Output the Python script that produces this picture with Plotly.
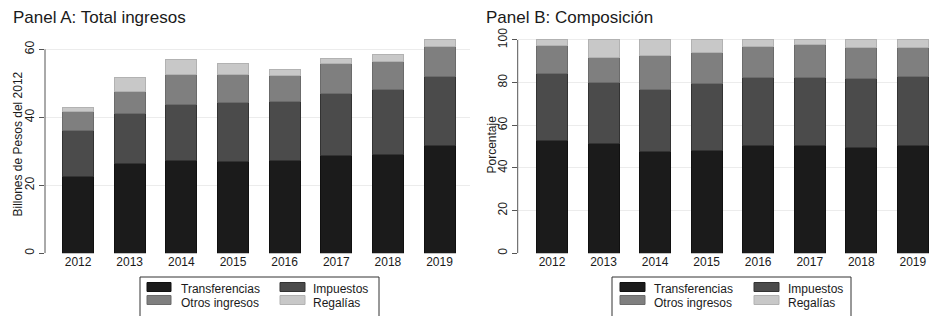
import plotly.graph_objects as go

# The page body has an 8px margin; the figure is sized/positioned so that
# reference pixel p lands on screen pixel p.
OFF = 8
W, H = 937 - OFF, 316 - OFF

years = ["2012", "2013", "2014", "2015", "2016", "2017", "2018", "2019"]
series_names = ["Transferencias", "Impuestos", "Otros ingresos", "Regalías"]

# Panel A: billions of 2012 pesos (stacked segments)
a_transferencias = [22.6, 26.5, 27.2, 27.0, 27.2, 28.8, 29.0, 31.7]
a_impuestos = [13.5, 14.6, 16.5, 17.4, 17.4, 18.2, 19.1, 20.2]
a_otros = [5.7, 6.5, 9.0, 8.3, 7.6, 8.8, 8.3, 9.0]
a_regalias = [1.1, 4.0, 4.3, 3.2, 1.9, 1.4, 2.2, 2.1]

# Panel B: composition in percent (stacked segments)
b_transferencias = [52.8, 51.4, 47.8, 48.4, 50.5, 50.5, 49.8, 50.3]
b_impuestos = [31.6, 28.8, 29.1, 31.4, 32.0, 31.7, 32.2, 32.4]
b_otros = [12.8, 11.8, 15.6, 14.4, 14.5, 15.9, 14.7, 14.0]
b_regalias = [2.8, 8.0, 7.5, 5.8, 3.0, 1.9, 3.3, 3.3]

a_ticks = [0, 20, 40, 60]
b_ticks = [0, 20, 40, 60, 80, 100]

fills = ["#1b1b1b", "#4b4b4b", "#7f7f7f", "#c8c8c8"]
edges = ["#101010", "#333333", "#6b6b6b", "#b2b2b2"]

FONT = "Liberation Sans, Arial, sans-serif"
TXT = "#1a1a1a"

fig = go.Figure()

a_data = [a_transferencias, a_impuestos, a_otros, a_regalias]
b_data = [b_transferencias, b_impuestos, b_otros, b_regalias]

for i, name in enumerate(series_names):
    fig.add_trace(go.Bar(x=years, y=a_data[i], name=name, xaxis="x", yaxis="y",
                         marker=dict(color=fills[i], line=dict(color=edges[i], width=1)),
                         width=0.6, showlegend=False))
for i, name in enumerate(series_names):
    fig.add_trace(go.Bar(x=years, y=b_data[i], name=name, xaxis="x2", yaxis="y2",
                         marker=dict(color=fills[i], line=dict(color=edges[i], width=1)),
                         width=0.6, showlegend=False))

def px_x(p):
    return (p - OFF) / W

def px_y(p):
    return 1 - (p - OFF) / H

ydom = [px_y(253.3), px_y(35.7)]

common_x = dict(type="category", showgrid=False, showline=False, ticks="",
                tickfont=dict(family=FONT, size=12, color=TXT), zeroline=False,
                automargin=False)
common_y = dict(showgrid=True, gridcolor="#ececec", gridwidth=1, showline=False,
                ticks="outside", ticklen=5, tickcolor="#555555", tickwidth=1,
                tickangle=-90, tickfont=dict(family=FONT, size=12, color=TXT),
                zeroline=False, automargin=False)

fig.update_layout(
    template="none",
    width=W, height=H,
    margin=dict(l=0, r=0, t=0, b=0, pad=0),
    paper_bgcolor="white", plot_bgcolor="white",
    barmode="stack", bargap=0.4,
    xaxis=dict(domain=[px_x(45), px_x(470)], range=[-0.64, 7.59], anchor="y", **common_x),
    yaxis=dict(domain=ydom, range=[0, 64], tickvals=a_ticks, anchor="x", **common_y),
    xaxis2=dict(domain=[px_x(517.7), px_x(935)], range=[-0.665, 7.43], anchor="y2", **common_x),
    yaxis2=dict(domain=ydom, range=[0, 102], tickvals=b_ticks, anchor="x2", **common_y),
)

shapes = []
# y axis lines spanning tick range only
shapes.append(dict(type="line", xref="x domain", yref="y", x0=0, x1=0, y0=0, y1=60,
                   line=dict(color="#555555", width=1)))
shapes.append(dict(type="line", xref="x2 domain", yref="y2", x0=0, x1=0, y0=0, y1=100,
                   line=dict(color="#555555", width=1)))

annotations = []
# Panel titles
annotations.append(dict(text="Panel A: Total ingresos", x=px_x(11), y=px_y(17), xref="paper", yref="paper",
                        xanchor="left", yanchor="middle", showarrow=False,
                        font=dict(family=FONT, size=17, color=TXT)))
annotations.append(dict(text="Panel B: Composición", x=px_x(484), y=px_y(17), xref="paper", yref="paper",
                        xanchor="left", yanchor="middle", showarrow=False,
                        font=dict(family=FONT, size=17, color=TXT)))
# Axis titles
annotations.append(dict(text="Billones de Pesos del 2012", x=px_x(17), y=0.5 * (ydom[0] + ydom[1]),
                        xref="paper", yref="paper", textangle=-90, showarrow=False,
                        xanchor="center", yanchor="middle", font=dict(family=FONT, size=12, color=TXT)))
annotations.append(dict(text="Porcentaje", x=px_x(491), y=0.5 * (ydom[0] + ydom[1]),
                        xref="paper", yref="paper", textangle=-90, showarrow=False,
                        xanchor="center", yanchor="middle", font=dict(family=FONT, size=12, color=TXT)))

# Legends (drawn as boxes + swatches + text)
def legend(left, right, sw_cols, txt_cols):
    shapes.append(dict(type="rect", xref="paper", yref="paper",
                       x0=px_x(left), x1=px_x(right), y0=px_y(330), y1=px_y(277),
                       line=dict(color="#333333", width=1), fillcolor="white", layer="below"))
    rows = [(282.5, 291.5, 289), (295.5, 304.5, 302.5)]
    order = [(0, 0, 0), (1, 0, 1), (2, 1, 0), (3, 1, 1)]  # (series, row, col)
    for s, r, c in order:
        y0, y1, yc = rows[r]
        sx0, sx1 = sw_cols[c]
        shapes.append(dict(type="rect", xref="paper", yref="paper",
                           x0=px_x(sx0), x1=px_x(sx1), y0=px_y(y1), y1=px_y(y0),
                           line=dict(color=edges[s], width=1), fillcolor=fills[s]))
        annotations.append(dict(text=series_names[s], x=px_x(txt_cols[c]), y=px_y(yc),
                                xref="paper", yref="paper", xanchor="left", yanchor="middle",
                                showarrow=False, font=dict(family=FONT, size=12, color=TXT)))

legend(140, 379, [(147, 171), (280, 305)], [179, 311])
legend(612, 851, [(620, 645), (754, 779)], [652, 786])

fig.update_layout(shapes=shapes, annotations=annotations)

fig.write_html("out.html")
